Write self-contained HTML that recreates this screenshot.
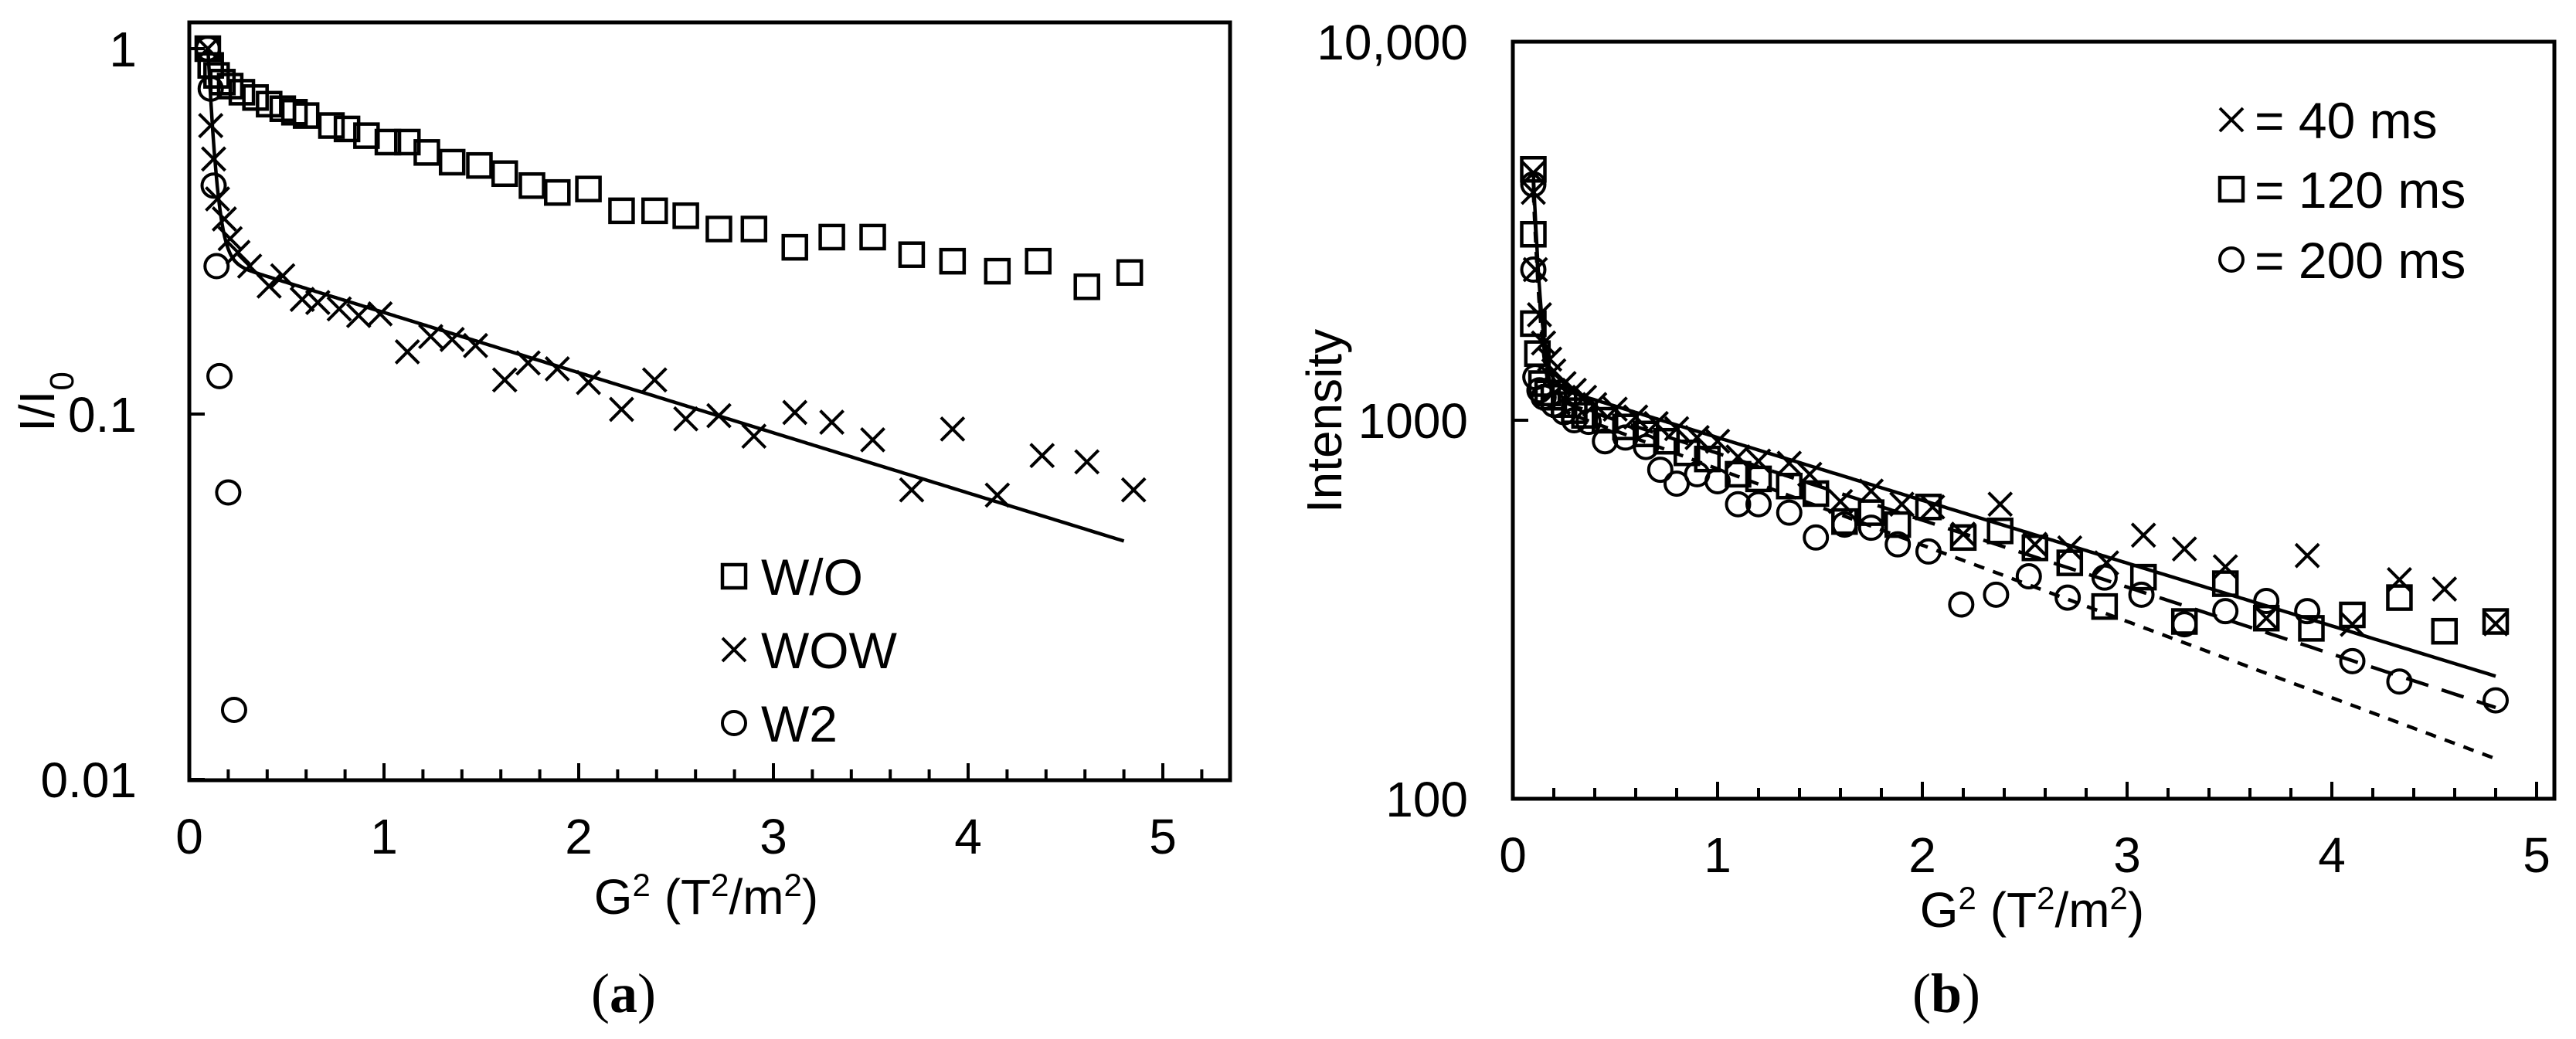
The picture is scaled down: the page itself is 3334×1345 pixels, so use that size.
<!DOCTYPE html>
<html><head><meta charset="utf-8">
<style>
html,body{margin:0;padding:0;background:#fff;}
svg{display:block;font-family:"Liberation Sans",Arial,sans-serif;}
</style></head>
<body>
<svg id="fig" width="3334" height="1345" viewBox="0 0 3334 1345" xmlns="http://www.w3.org/2000/svg">
  <rect x="0" y="0" width="3334" height="1345" fill="#fff"/>
  <g id="panelA"></g>
  <g id="panelB"></g>
  <text x="807" y="1310" text-anchor="middle" font-family="Liberation Serif, serif" font-size="72">(<tspan font-weight="bold">a</tspan>)</text>
  <text x="2519" y="1310" text-anchor="middle" font-family="Liberation Serif, serif" font-size="72">(<tspan font-weight="bold">b</tspan>)</text>
</svg>
<script>
// ---------- Panel (a) data ----------
const aXTicks = [0, 1, 2, 3, 4, 5];
const aYTicks = [1, 0.1, 0.01];
const aYTickLabels = ["1", "0.1", "0.01"];
const woX = [0.095,0.11,0.14,0.17,0.21,0.27,0.34,0.41,0.48,0.54,0.60,0.73,0.81,0.91,1.02,1.12,1.22,1.35,1.49,1.62,1.76,1.89,2.05,2.22,2.39,2.55,2.72,2.90,3.11,3.30,3.51,3.71,3.92,4.15,4.36,4.61,4.83];
const woY = [1,0.90,0.845,0.81,0.79,0.76,0.735,0.705,0.685,0.67,0.656,0.616,0.603,0.578,0.555,0.555,0.52,0.489,0.479,0.455,0.422,0.404,0.413,0.36,0.36,0.349,0.321,0.321,0.286,0.305,0.305,0.273,0.262,0.246,0.262,0.223,0.244];
const wowX = [0.095,0.11,0.125,0.145,0.18,0.21,0.25,0.31,0.41,0.48,0.58,0.66,0.77,0.87,0.98,1.12,1.24,1.35,1.47,1.62,1.74,1.89,2.05,2.22,2.39,2.55,2.72,2.90,3.11,3.30,3.51,3.71,3.92,4.15,4.38,4.61,4.85];
const wowY = [1,0.616,0.499,0.388,0.342,0.302,0.277,0.254,0.224,0.239,0.206,0.202,0.194,0.186,0.188,0.148,0.163,0.160,0.154,0.124,0.138,0.133,0.122,0.103,0.124,0.097,0.099,0.087,0.101,0.095,0.085,0.062,0.091,0.06,0.077,0.074,0.062];
const w2X = [0.095,0.11,0.125,0.14,0.155,0.2,0.23];
const w2Y = [1,0.777,0.422,0.254,0.127,0.061,0.0155];
// biexponential fit for WOW: [A, a, B, b]
const aFit = [15.5, 31.9, 0.277, 0.379];
const aFitRange = [0.095, 4.8];

// ---------- Panel (b) data ----------
const bXTicks = [0, 1, 2, 3, 4, 5];
const bYTicks = [10000, 1000, 100];
const bYTickLabels = ["10,000", "1000", "100"];
const b40X = [0.1,0.1,0.11,0.13,0.15,0.18,0.2,0.25,0.3,0.35,0.4,0.5,0.6,0.7,0.8,0.9,1.0,1.1,1.2,1.35,1.45,1.6,1.75,1.9,2.05,2.2,2.38,2.55,2.72,2.9,3.08,3.28,3.48,3.68,3.88,4.1,4.33,4.55,4.8];
const b40Y = [4500,4000,2500,1900,1600,1450,1350,1250,1200,1150,1100,1070,1020,980,950,900,880,800,780,770,720,610,650,600,590,500,600,470,460,420,497,457,410,300,439,289,379,358,290];
const b120X = [0.1,0.1,0.1,0.12,0.14,0.17,0.2,0.25,0.3,0.35,0.45,0.55,0.65,0.75,0.85,0.95,1.1,1.2,1.35,1.48,1.62,1.75,1.88,2.03,2.2,2.38,2.55,2.72,2.89,3.08,3.28,3.48,3.68,3.9,4.1,4.33,4.55,4.8];
const b120Y = [4600,3100,1800,1500,1250,1180,1150,1100,1060,1030,1000,960,920,880,820,790,720,700,670,640,540,570,530,590,490,510,460,420,322,385,294,370,300,282,306,340,277,294];
const b200X = [0.1,0.1,0.11,0.13,0.15,0.2,0.25,0.3,0.37,0.45,0.55,0.65,0.72,0.8,0.9,1.0,1.1,1.2,1.35,1.48,1.62,1.75,1.88,2.03,2.19,2.36,2.52,2.71,2.89,3.07,3.28,3.48,3.68,3.88,4.1,4.33,4.8];
const b200Y = [4200,2500,1300,1200,1150,1100,1050,1000,990,880,900,850,740,680,720,690,600,600,570,490,530,520,470,450,326,346,387,340,384,346,289,313,333,313,231,204,182];
// fits: [A, a, B, b]
const bFitSolid = [167000, 39.5, 1319, 0.382];
const bFitLong  = [160000, 39.5, 1229, 0.407];
const bFitShort = [150000, 39.5, 1183, 0.464];
const bFitRange = [0.1, 4.8];

// ---------- helpers ----------
const NS = "http://www.w3.org/2000/svg";
function mk(tag, attrs, parent) {
  const e = document.createElementNS(NS, tag);
  for (const k in attrs) e.setAttribute(k, attrs[k]);
  parent.appendChild(e);
  return e;
}
function marker(kind, cx, cy, parent, name) {
  const s = 15;
  let e;
  if (kind === "square") {
    e = mk("rect", {x: cx - s, y: cy - s, width: 2 * s, height: 2 * s, fill: "none", stroke: "#000", "stroke-width": 4.5}, parent);
  } else if (kind === "circle") {
    e = mk("ellipse", {cx: cx, cy: cy, rx: s, ry: s, fill: "none", stroke: "#000", "stroke-width": 4}, parent);
  } else {
    e = mk("path", {d: `M${cx - s},${cy - s}L${cx + s},${cy + s}M${cx - s},${cy + s}L${cx + s},${cy - s}`, fill: "none", stroke: "#000", "stroke-width": 4}, parent);
  }
  
  
  return e;
}
function biexp(p, x) { return p[0] * Math.exp(-p[1] * x) + p[2] * Math.exp(-p[3] * x); }

function drawPanel(g, cfg) {
  const X = v => cfg.x0 + v * cfg.xu;
  const Y = v => cfg.yTopVal - cfg.dec * (Math.log10(v) - cfg.yTopLog);
  // frame
  const fr = mk("rect", {x: cfg.left, y: cfg.top, width: cfg.right - cfg.left, height: cfg.bottom - cfg.top, fill: "none", stroke: "#000", "stroke-width": 5}, g);
  
  
  // x ticks
  for (let i = 0; i <= 26; i++) {
    const v = i * 0.2;
    const px = X(v);
    if (px > cfg.right - 3) continue;
    const major = Math.abs(v - Math.round(v)) < 1e-6;
    const t = mk("line", {x1: px, x2: px, y1: cfg.bottom, y2: cfg.bottom - (major ? 22 : 14), stroke: "#000", "stroke-width": 4}, g);
    
    
  }
  cfg.xTicks.forEach(v => {
    const t = mk("text", {x: X(v), y: cfg.bottom + 95, "text-anchor": "middle", "font-size": 64}, g);
    t.textContent = String(v);
    
    
  });
  cfg.yTicks.forEach((v, i) => {
    const py = Y(v);
    const t = mk("line", {x1: cfg.left, x2: cfg.left + 20, y1: py, y2: py, stroke: "#000", "stroke-width": 4}, g);
    
    
    const l = mk("text", {x: cfg.labelRight, y: py + 23, "text-anchor": "end", "font-size": 64}, g);
    l.textContent = cfg.yTickLabels[i];
    
    
  });
  // fit lines
  cfg.fits.forEach(f => {
    let d = "";
    const n = 400;
    for (let i = 0; i <= n; i++) {
      const x = f.range[0] + (f.range[1] - f.range[0]) * Math.pow(i / n, 1.6);
      d += (i ? "L" : "M") + X(x).toFixed(1) + "," + Y(biexp(f.p, x)).toFixed(1);
    }
    const pth = mk("path", {d: d, fill: "none", stroke: "#000", "stroke-width": 4.5, "stroke-dasharray": f.dash || "none"}, g);
    
    
  });
  // series
  cfg.series.forEach(s => {
    const sg = mk("g", {}, g);
    
    
    s.xs.forEach((x, i) => marker(s.kind, X(x), Y(s.ys[i]), sg, s.name + '-point'));
  });
}

const gA = document.getElementById("panelA");
drawPanel(gA, {
  p: "panel-a", left: 245, right: 1592, top: 29, bottom: 1010,
  x0: 245, xu: 252, yTopVal: 63, yTopLog: 0, dec: 473, labelRight: 177,
  xTicks: aXTicks, yTicks: aYTicks, yTickLabels: aYTickLabels,
  fits: [{p: aFit, range: aFitRange, name: "wow-fit-line"}],
  series: [
    {name: "wo-series", kind: "square", xs: woX, ys: woY},
    {name: "wow-series", kind: "cross", xs: wowX, ys: wowY},
    {name: "w2-series", kind: "circle", xs: w2X, ys: w2Y}
  ]
});

const gB = document.getElementById("panelB");
drawPanel(gB, {
  p: "panel-b", left: 1958, right: 3306, top: 54, bottom: 1034,
  x0: 1958, xu: 265, yTopVal: 54, yTopLog: 4, dec: 490, labelRight: 1900,
  xTicks: bXTicks, yTicks: bYTicks, yTickLabels: bYTickLabels,
  fits: [
    {p: bFitSolid, range: bFitRange, name: "fit-40ms-line"},
    {p: bFitLong, range: bFitRange, name: "fit-120ms-line", dash: "30,18"},
    {p: bFitShort, range: bFitRange, name: "fit-200ms-line", dash: "14,12"}
  ],
  series: [
    {name: "series-40ms", kind: "cross", xs: b40X, ys: b40Y},
    {name: "series-120ms", kind: "square", xs: b120X, ys: b120Y},
    {name: "series-200ms", kind: "circle", xs: b200X, ys: b200Y}
  ]
});

// axis titles
const svg = document.getElementById("fig");
let t;
t = mk("text", {x: 914, y: 1183, "text-anchor": "middle", "font-size": 64}, svg);
t.innerHTML = 'G<tspan baseline-shift="super" font-size="42">2</tspan> (T<tspan baseline-shift="super" font-size="42">2</tspan>/m<tspan baseline-shift="super" font-size="42">2</tspan>)';


t = mk("text", {x: 2630, y: 1200, "text-anchor": "middle", "font-size": 64}, svg);
t.innerHTML = 'G<tspan baseline-shift="super" font-size="42">2</tspan> (T<tspan baseline-shift="super" font-size="42">2</tspan>/m<tspan baseline-shift="super" font-size="42">2</tspan>)';


t = mk("text", {x: 0, y: 0, "text-anchor": "middle", "font-size": 64, transform: "translate(70,520) rotate(-90)"}, svg);
t.innerHTML = 'I/I<tspan baseline-shift="sub" font-size="44">0</tspan>';


t = mk("text", {x: 0, y: 0, "text-anchor": "middle", "font-size": 64, transform: "translate(1736,545) rotate(-90)"}, svg);
t.textContent = 'Intensity';



// legends
const legA = mk("g", {}, svg);


[["square", "W/O", 746], ["cross", "WOW", 841], ["circle", "W2", 936]].forEach(r => {
  marker(r[0], 950, r[2], legA, 'legend-marker');
  const l = mk("text", {x: 985, y: r[2] + 24, "font-size": 66}, legA);
  l.textContent = r[1];
  
  
});
const legB = mk("g", {}, svg);


[["cross", "= 40 ms", 155], ["square", "= 120 ms", 245], ["circle", "= 200 ms", 336]].forEach(r => {
  marker(r[0], 2888, r[2], legB, 'legend-marker');
  const l = mk("text", {x: 2918, y: r[2] + 24, "font-size": 66}, legB);
  l.textContent = r[1];
  
  
});
</script>
</body></html>
